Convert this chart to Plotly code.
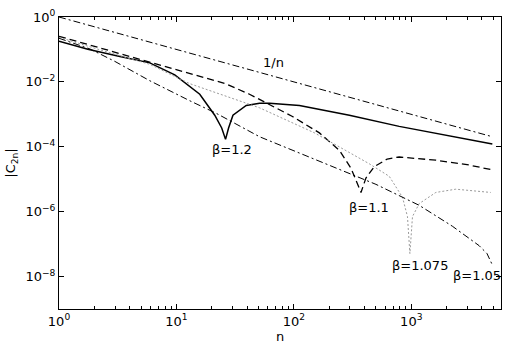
import math
import plotly.graph_objects as go

# 1/n reference line
n_inv = [1, 4900]
c_inv = [1.0, 2.04e-4]

# beta = 1.2 (solid)
n_12 = [1, 1.76, 3.30, 5.93, 9.68, 15.8, 21.2, 24.3, 26.2, 27.8, 30.3, 39.3, 51.0, 62.1, 111.6, 297, 789, 2099, 4900]
c_12 = [0.180, 0.102, 0.0603, 0.0386, 0.0164, 4.16e-3, 9.4e-4, 3.8e-4, 1.69e-4, 3.8e-4, 9.4e-4, 1.87e-3, 2.2e-3, 2.2e-3, 1.87e-3, 9.4e-4, 4.25e-4, 2.14e-4, 1.22e-4]

# beta = 1.1 (dashed)
n_11 = [1, 5.93, 26.2, 41.9, 97.3, 165, 244, 307, 334, 373, 411, 484, 624, 789, 1618, 3104, 4900]
c_11 = [0.254, 0.0413, 8.84e-3, 4.16e-3, 8.6e-4, 2.68e-4, 7.8e-5, 2.17e-5, 1.0e-5, 3.9e-6, 1.09e-5, 2.44e-5, 4.2e-5, 4.84e-5, 3.86e-5, 2.74e-5, 1.94e-5]

# beta = 1.075 (dotted)
n_1075 = [1, 2.23, 5.93, 12.97, 51.0, 150, 439, 649, 842, 928, 973, 1024, 1167, 1618, 2393, 4745]
c_1075 = [0.237, 0.0973, 0.0348, 8.84e-3, 1.59e-3, 2.68e-4, 2.99e-5, 1.23e-5, 2.77e-6, 7.05e-7, 5.1e-8, 7.05e-7, 1.77e-6, 3.91e-6, 4.93e-6, 3.91e-6]

# beta = 1.05 (dash-dot)
n_105 = [1, 1.83, 2.99, 5.93, 12.97, 22.0, 51.0, 135.7, 361, 500, 1167, 2239, 3777, 4416, 4898]
c_105 = [0.221, 0.104, 0.0428, 0.01086, 2.63e-3, 1.06e-3, 2.04e-4, 4.84e-5, 1.15e-5, 6.95e-6, 1.57e-6, 3.56e-7, 9.0e-8, 5.1e-8, 2.29e-8]

x_tickvals = [1, 10, 100, 1000]
x_ticktext = ["10<sup>0</sup>", "10<sup>1</sup>", "10<sup>2</sup>", "10<sup>3</sup>"]
x_minorvals = [m * d for d in (1, 10, 100, 1000) for m in range(2, 10) if m * d < 5800]
y_tickvals = [1e-8, 1e-6, 1e-4, 1e-2, 1]
y_ticktext = ["10<sup>−8</sup>", "10<sup>−6</sup>", "10<sup>−4</sup>", "10<sup>−2</sup>", "10<sup>0</sup>"]

labels = ["1/n", "β=1.2", "β=1.1", "β=1.075", "β=1.05"]
label_n = [67.1, 29.5, 434, 1178, 3630]
label_c = [0.0399, 8.4e-5, 1.37e-6, 2.24e-8, 1.08e-8]

FONT = "DejaVu Sans"

fig = go.Figure()
fig.add_trace(go.Scatter(x=n_inv, y=c_inv, mode="lines",
                         line=dict(color="black", width=1, dash="7px,3px,2px,3px")))
fig.add_trace(go.Scatter(x=n_12, y=c_12, mode="lines",
                         line=dict(color="black", width=1.5)))
fig.add_trace(go.Scatter(x=n_11, y=c_11, mode="lines",
                         line=dict(color="black", width=1.3, dash="7px,4px")))
fig.add_trace(go.Scatter(x=n_1075, y=c_1075, mode="lines",
                         line=dict(color="#9a9a9a", width=1, dash="2px,2px")))
fig.add_trace(go.Scatter(x=n_105, y=c_105, mode="lines",
                         line=dict(color="black", width=1, dash="7px,3px,2px,3px")))

for t, xn, yc in zip(labels, label_n, label_c):
    fig.add_annotation(x=math.log10(xn), y=math.log10(yc), text=t, showarrow=False,
                       font=dict(family=FONT, size=13, color="black"))

fig.update_layout(
    width=510, height=348,
    margin=dict(l=59, r=8, t=10, b=36),
    paper_bgcolor="white", plot_bgcolor="white",
    showlegend=False,
    font=dict(family=FONT, size=13, color="black"),
)
fig.update_xaxes(type="log", range=[0, 3.764], tickmode="array",
                 tickvals=x_tickvals, ticktext=x_ticktext,
                 showgrid=False, zeroline=False, showline=True, linecolor="black", linewidth=1,
                 mirror="ticks", ticks="inside", ticklen=5, tickcolor="black",
                 minor=dict(tickmode="array", tickvals=x_minorvals, ticks="inside",
                            ticklen=3, tickcolor="black", showgrid=False),
                 title=dict(text="n", standoff=2, font=dict(size=13)))
fig.update_yaxes(type="log", range=[-9, 0], tickmode="array",
                 tickvals=y_tickvals, ticktext=y_ticktext,
                 showgrid=False, zeroline=False, showline=True, linecolor="black", linewidth=1,
                 mirror="ticks", ticks="inside", ticklen=5, tickcolor="black",
                 title=dict(text="|C<sub>2n</sub>|", standoff=6, font=dict(size=13)))

fig.write_html("out.html")
